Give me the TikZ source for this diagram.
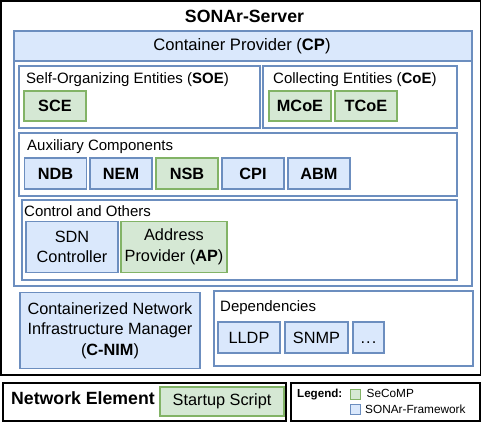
\documentclass[tikz,border=0pt]{standalone}
\usepackage{fontspec}
\setmainfont{Liberation Sans}
\definecolor{bfill}{HTML}{DAE8FC}
\definecolor{bline}{HTML}{6C8EBF}
\definecolor{gfill}{HTML}{D5E8D4}
\definecolor{gline}{HTML}{82B366}
\tikzset{
  leaf/.style={draw=bline, fill=bfill, line width=1.3pt, inner sep=0pt, align=center, font=\fontsize{16.3}{20.5}\selectfont},
  gleaf/.style={leaf, draw=gline, fill=gfill},
  grp/.style={draw=bline, line width=1.3pt, fill=white},
  blk/.style={draw=black, line width=1.8pt},
  lbl/.style={anchor=base west, inner sep=0pt, font=\fontsize{15}{18}\selectfont},
  legtxt/.style={anchor=base west, inner sep=0pt, font=\fontsize{11.8}{14}\selectfont},
}
\begin{document}
\begin{tikzpicture}[x=1pt,y=-1pt]
\useasboundingbox (0,0) rectangle (482,423);
% outer server box
\draw[blk] (1,1) rectangle (480.5,375);
\node[anchor=base, inner sep=0pt, font=\fontsize{17.7}{20}\selectfont\bfseries] (title) at (244.5,23) {SONAr-Server};
% container provider
\draw[grp] (14,31) rectangle (472,286);
\draw[grp, fill=bfill] (14,31) rectangle (472,61);
\node[inner sep=0pt, font=\fontsize{16.6}{20}\selectfont] (cp) at (242,46) {Container Provider (\textbf{CP})};
% SOE
\draw[grp] (19,66) rectangle (260,128);
\node[lbl] (soe) at (26,83) {Self-Organizing Entities (\textbf{SOE})};
\node[gleaf, minimum width=62pt, minimum height=30pt] (sce) at (55,106) {\textbf{SCE}};
% CoE
\draw[grp] (263,66) rectangle (457,128);
\node[lbl] (coe) at (273,83) {Collecting Entities (\textbf{CoE})};
\node[gleaf, minimum width=62pt, minimum height=30pt] (mcoe) at (300,106) {\textbf{MCoE}};
\node[gleaf, minimum width=62pt, minimum height=30pt] (tcoe) at (366,106) {\textbf{TCoE}};
% Auxiliary
\draw[grp] (19,133) rectangle (457,196);
\node[lbl] (aux) at (27,150) {Auxiliary Components};
\node[leaf, minimum width=62pt, minimum height=31pt] (ndb) at (55.5,173.5) {\textbf{NDB}};
\node[leaf, minimum width=62pt, minimum height=31pt] (nem) at (121,173.5) {\textbf{NEM}};
\node[gleaf, minimum width=62pt, minimum height=31pt] (nsb) at (187,173.5) {\textbf{NSB}};
\node[leaf, minimum width=62pt, minimum height=31pt] (cpi) at (253,173.5) {\textbf{CPI}};
\node[leaf, minimum width=62pt, minimum height=31pt] (abm) at (319,173.5) {\textbf{ABM}};
% Control and others
\draw[grp] (22,200) rectangle (457,280);
\node[lbl] (ctrl) at (24,216) {Control and Others};
\node[leaf, minimum width=92pt, minimum height=51pt] (sdn) at (72,247) {SDN\\Controller};
\node[gleaf, minimum width=106pt, minimum height=51pt] (ap) at (174,247) {Address\\Provider (\textbf{AP})};
% C-NIM
\node[leaf, minimum width=180pt, minimum height=76pt] (cnim) at (110,330.5) {Containerized Network\\Infrastructure Manager\\(\textbf{C-NIM})};
% Dependencies
\draw[grp] (214,291) rectangle (473,366);
\node[lbl] (deps) at (220,311) {Dependencies};
\node[leaf, minimum width=62pt, minimum height=31pt] (lldp) at (249,337.5) {LLDP};
\node[leaf, minimum width=63pt, minimum height=31pt] (snmp) at (316.5,337.5) {SNMP};
\node[leaf, minimum width=31pt, minimum height=31pt] (more) at (368.5,337.5) {\vphantom{L}.\kern1pt.\kern1pt.};
% Network element
\draw[blk] (3,383) rectangle (286,421);
\node[anchor=base west, inner sep=0pt, font=\fontsize{17.7}{20}\selectfont\bfseries] (ne) at (11,404) {Network Element};
\node[gleaf, minimum width=124pt, minimum height=29pt] (startup) at (222,401.5) {Startup Script};
% Legend
\draw[blk] (291,383) rectangle (480,421);
\node[legtxt, font=\fontsize{11.6}{14}\selectfont\bfseries] (leg) at (297,397.5) {Legend:};
\node[draw=gline, fill=gfill, line width=1pt, minimum size=10pt, inner sep=0pt] (lg) at (355,394) {};
\node[draw=bline, fill=bfill, line width=1pt, minimum size=10pt, inner sep=0pt] (lb) at (355,409) {};
\node[legtxt] (lgt) at (366.5,397.5) {SeCoMP};
\node[legtxt] (lbt) at (365,413.5) {SONAr-Framework};
\end{tikzpicture}
\end{document}
